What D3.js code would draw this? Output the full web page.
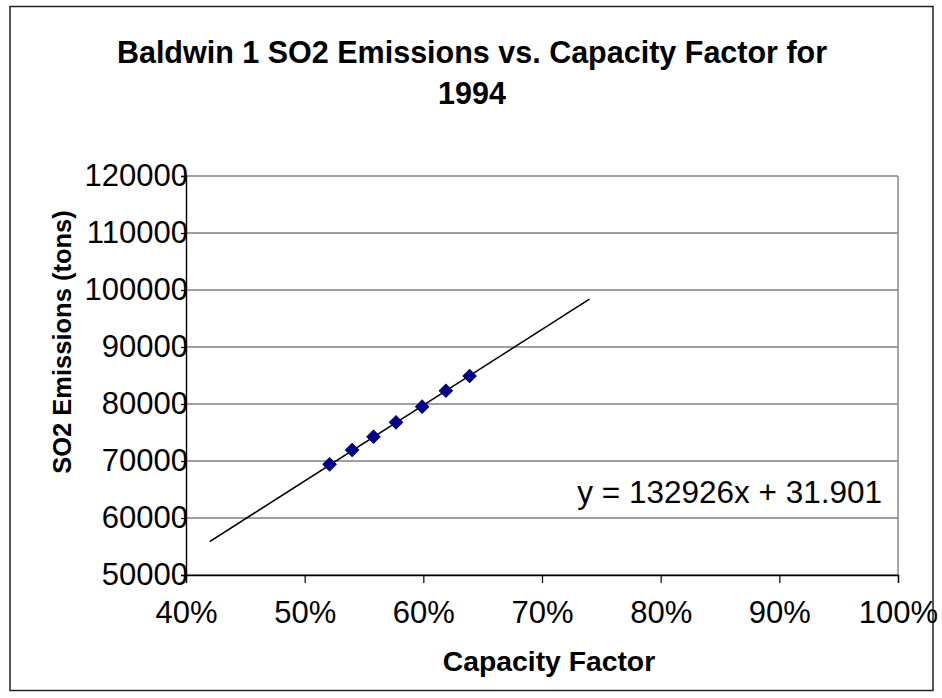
<!DOCTYPE html>
<html>
<head>
<meta charset="utf-8">
<script src="https://cdn.jsdelivr.net/npm/d3@7"></script>
<style>
  body { margin: 0; background: #fff; }
  svg { display: block; font-family: "Liberation Sans", Arial, sans-serif; }
</style>
</head>
<body>
<script>
// data
var capacityFactor = [0.521, 0.540, 0.558, 0.577, 0.599, 0.619, 0.639]
var so2Tons = [69420, 71930, 74260, 76790, 79530, 82330, 84910]
var xTicks = [0.4, 0.5, 0.6, 0.7, 0.8, 0.9, 1.0]
var yTicks = [50000, 60000, 70000, 80000, 90000, 100000, 110000, 120000]
var trendSlope = 132926
var trendIntercept = 31.901
var trendRange = [0.42, 0.74] // trendline forecast 0.1 back / forward

var width = 942
var height = 698
var margin = { top: 176, right: 44, bottom: 123, left: 186 }

var svg = d3.select('body').append('svg')
  .attr('width', width)
  .attr('height', height)

// outer chart border
svg.append('rect')
  .attr('x', 10).attr('y', 6.5)
  .attr('width', 923).attr('height', 684)
  .attr('fill', '#fff')
  .attr('stroke', '#222')
  .attr('stroke-width', 1.5)

var x = d3.scaleLinear()
  .domain([0.4, 1.0])
  .range([margin.left, width - margin.right])

var y = d3.scaleLinear()
  .domain([50000, 120000])
  .range([height - margin.bottom, margin.top])

// gridlines
svg.append('g')
  .selectAll('line')
  .data(yTicks)
  .join('line')
  .attr('x1', x(0.4)).attr('x2', x(1.0))
  .attr('y1', function (d) { return y(d) })
  .attr('y2', function (d) { return y(d) })
  .attr('stroke', '#808080')
  .attr('stroke-width', 1.4)

// plot area right border
svg.append('line')
  .attr('x1', x(1.0)).attr('x2', x(1.0))
  .attr('y1', y(120000)).attr('y2', y(50000))
  .attr('stroke', '#808080')
  .attr('stroke-width', 1.4)

// x axis
var xAxis = svg.append('g')
  .attr('transform', 'translate(0,' + y(50000) + ')')
  .call(d3.axisBottom(x)
    .tickValues(xTicks)
    .tickSize(8)
    .tickPadding(18)
    .tickFormat(d3.format('.0%')))
xAxis.select('.domain').attr('stroke', '#000').attr('stroke-width', 1.4)
xAxis.selectAll('.tick line').attr('stroke', '#000').attr('stroke-width', 1.2)
xAxis.selectAll('text')
  .attr('fill', '#000')
  .attr('font-size', 31)
  .attr('font-family', '"Liberation Sans", Arial, sans-serif')

// y axis
var yAxis = svg.append('g')
  .attr('transform', 'translate(' + x(0.4) + ',0)')
  .call(d3.axisLeft(y)
    .tickValues(yTicks)
    .tickSize(5)
    .tickPadding(-7)
    .tickFormat(d3.format('d')))
yAxis.select('.domain').attr('stroke', '#000').attr('stroke-width', 1.4)
yAxis.selectAll('.tick line').attr('stroke', '#000').attr('stroke-width', 1.2)
yAxis.selectAll('text')
  .attr('fill', '#000')
  .attr('font-size', 31)
  .attr('font-family', '"Liberation Sans", Arial, sans-serif')

// trendline
svg.append('line')
  .attr('x1', x(trendRange[0]))
  .attr('y1', y(trendSlope * trendRange[0] + trendIntercept))
  .attr('x2', x(trendRange[1]))
  .attr('y2', y(trendSlope * trendRange[1] + trendIntercept))
  .attr('stroke', '#000')
  .attr('stroke-width', 1.6)

// markers (diamonds)
var diamond = d3.symbol().type(d3.symbolSquare).size(88)
svg.append('g')
  .selectAll('path')
  .data(capacityFactor)
  .join('path')
  .attr('d', diamond)
  .attr('transform', function (d, i) {
    return 'translate(' + x(d) + ',' + y(so2Tons[i]) + ') rotate(45)'
  })
  .attr('fill', '#000080')
  .attr('stroke', '#000080')
  .attr('stroke-width', 1)

// trendline equation
svg.append('text')
  .attr('x', 882).attr('y', 503)
  .attr('text-anchor', 'end')
  .attr('font-size', 31.5)
  .text('y = ' + trendSlope + 'x + ' + trendIntercept)

// title
var title = svg.append('text')
  .attr('text-anchor', 'middle')
  .attr('font-size', 30.5)
  .attr('font-weight', 'bold')
title.append('tspan').attr('x', 472).attr('y', 63)
  .text('Baldwin 1 SO2 Emissions vs. Capacity Factor for')
title.append('tspan').attr('x', 472).attr('y', 104)
  .text('1994')

// axis titles
svg.append('text')
  .attr('x', 549)
  .attr('y', 671)
  .attr('text-anchor', 'middle')
  .attr('font-size', 28.3)
  .attr('font-weight', 'bold')
  .text('Capacity Factor')

svg.append('text')
  .attr('transform', 'translate(71,342) rotate(-90)')
  .attr('text-anchor', 'middle')
  .attr('font-size', 25.5)
  .attr('font-weight', 'bold')
  .text('SO2 Emissions (tons)')
</script>
</body>
</html>
